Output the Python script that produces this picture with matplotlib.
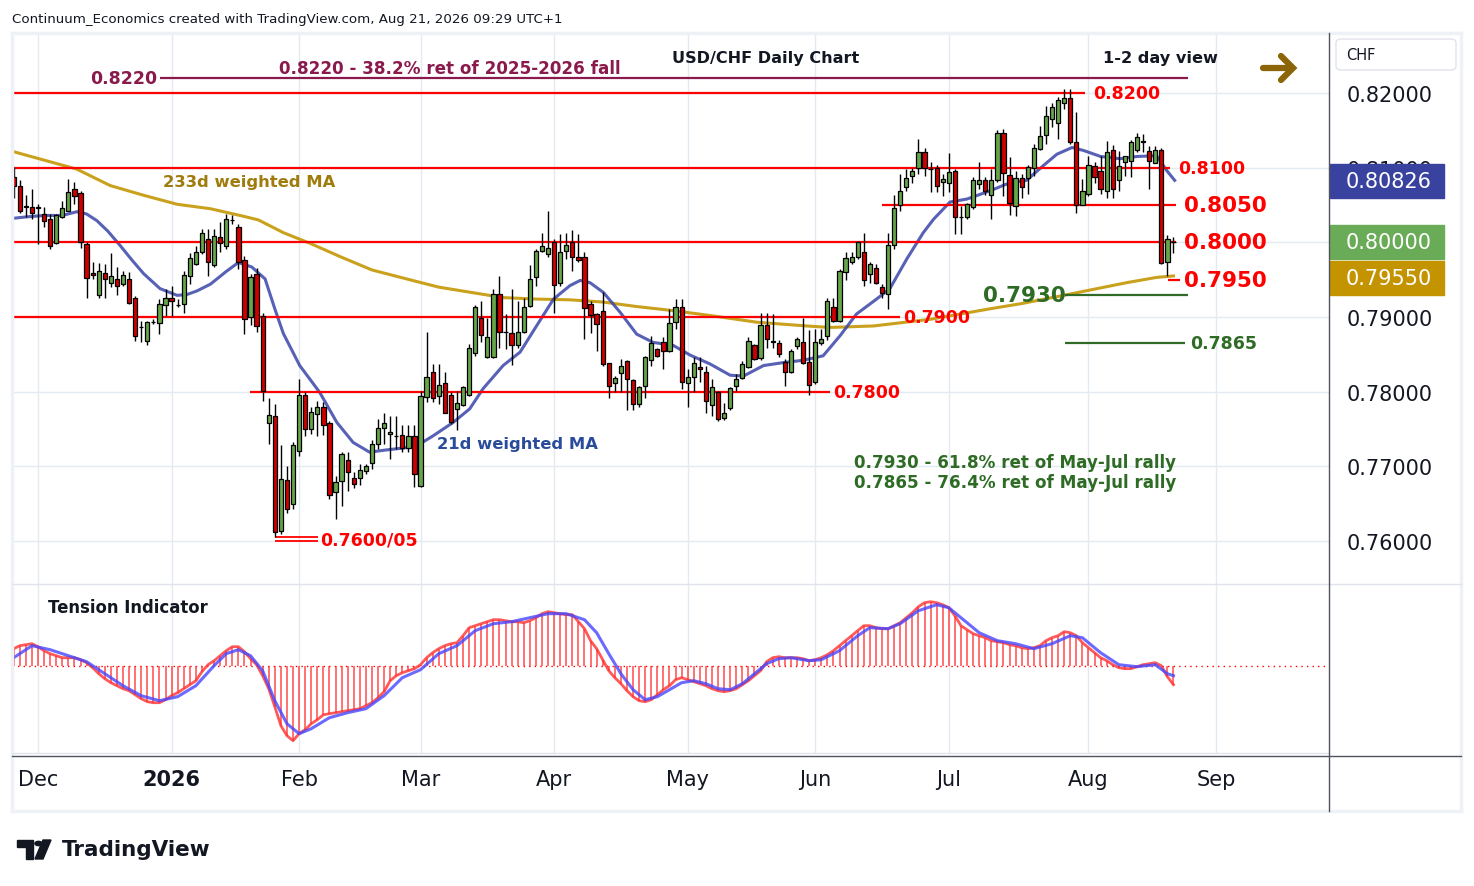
import numpy as np
import pandas as pd
import matplotlib
matplotlib.use("Agg")
import matplotlib.pyplot as plt
from matplotlib.patches import Rectangle, FancyBboxPatch, Circle, Polygon
from matplotlib.lines import Line2D
import matplotlib.transforms as mtransforms

# ---------------- data ----------------
opens = [0.8087,0.8076,0.8047,0.8047,0.8046,0.8038,0.8031,0.7999,0.8034,0.8042,0.8071,0.8066,0.7998,0.7959,0.7930,0.7959,
         0.7946,0.7951,0.7944,0.7951,0.7926,0.7886,0.7868,0.7893,0.7892,0.7916,0.7926,0.7916,0.7918,0.7955,0.7971,0.7987,
         0.8005,0.7969,0.8007,0.7995,0.8030,0.8020,0.7977,0.7900,0.7958,0.7902,0.7758,0.7767,0.7614,0.7682,0.7649,0.7721,
         0.7795,0.7750,0.7770,0.7780,0.7758,0.7665,0.7680,0.7709,0.7685,0.7685,0.7694,0.7705,0.7730,0.7751,0.7743,0.7740,
         0.7742,0.7725,0.7741,0.7674,0.7793,0.7827,0.7794,0.7811,0.7795,0.7777,0.7782,0.7795,0.7852,0.7898,0.7847,0.7847,
         0.7931,0.7880,0.7878,0.7862,0.7880,0.7915,0.7953,0.7988,0.7985,0.8001,0.7946,0.7988,0.8000,0.7981,0.7980,0.7918,
         0.7904,0.7908,0.7838,0.7811,0.7825,0.7841,0.7815,0.7783,0.7807,0.7842,0.7857,0.7866,0.7854,0.7893,0.7913,0.7811,
         0.7819,0.7833,0.7827,0.7782,0.7799,0.7765,0.7778,0.7808,0.7818,0.7833,0.7862,0.7845,0.7889,0.7867,0.7865,0.7840,
         0.7826,0.7861,0.7867,0.7840,0.7813,0.7865,0.7874,0.7914,0.7895,0.7960,0.7974,0.7980,0.7987,0.7958,0.7965,0.7940,
         0.7931,0.7996,0.8050,0.8074,0.8089,0.8099,0.8121,0.8098,0.8099,0.8081,0.8080,0.8095,0.8034,0.8034,0.8047,0.8078,
         0.8084,0.8063,0.8084,0.8146,0.8090,0.8048,0.8086,0.8086,0.8099,0.8125,0.8144,0.8165,0.8160,0.8187,0.8193,0.8134,
         0.8050,0.8065,0.8102,0.8095,0.8069,0.8124,0.8084,0.8107,0.8109,0.8124,0.8135,0.8122,0.8106,0.8124,0.7974,0.8000]
highs = [0.8101,0.8083,0.8063,0.8071,0.8051,0.8047,0.8038,0.8038,0.8056,0.8085,0.8081,0.8069,0.8000,0.7973,0.7972,0.7971,
         0.7986,0.7967,0.7962,0.7960,0.7928,0.7895,0.7895,0.7897,0.7924,0.7937,0.7942,0.7924,0.7962,0.7986,0.7995,0.8018,
         0.8018,0.8018,0.8027,0.8038,0.8036,0.8025,0.7982,0.7958,0.7966,0.7905,0.7792,0.7783,0.7728,0.7701,0.7732,0.7817,
         0.7799,0.7779,0.7787,0.7786,0.7761,0.7687,0.7719,0.7719,0.7692,0.7703,0.7703,0.7735,0.7763,0.7772,0.7767,0.7767,
         0.7756,0.7755,0.7755,0.7801,0.7880,0.7837,0.7837,0.7826,0.7799,0.7801,0.7808,0.7864,0.7916,0.7922,0.7899,0.7937,
         0.7955,0.7904,0.7938,0.7922,0.7926,0.7970,0.7991,0.8013,0.8042,0.8004,0.8011,0.8013,0.8017,0.8011,0.7987,0.7922,
         0.7906,0.7933,0.7839,0.7821,0.7844,0.7842,0.7817,0.7808,0.7848,0.7875,0.7859,0.7873,0.7911,0.7924,0.7924,0.7830,
         0.7846,0.7846,0.7835,0.7817,0.7801,0.7785,0.7806,0.7824,0.7841,0.7873,0.7864,0.7906,0.7906,0.7904,0.7869,0.7844,
         0.7857,0.7873,0.7898,0.7882,0.7884,0.7884,0.7926,0.7926,0.7964,0.7987,0.7987,0.8002,0.8013,0.7973,0.7971,0.7944,
         0.8013,0.8063,0.8092,0.8098,0.8100,0.8139,0.8127,0.8107,0.8103,0.8091,0.8119,0.8098,0.8049,0.8053,0.8087,0.8107,
         0.8087,0.8098,0.8150,0.8152,0.8114,0.8096,0.8091,0.8104,0.8132,0.8156,0.8183,0.8187,0.8195,0.8205,0.8206,0.8174,
         0.8085,0.8116,0.8107,0.8116,0.8136,0.8131,0.8122,0.8115,0.8137,0.8147,0.8145,0.8129,0.8129,0.8127,0.8010,0.8007]
lows = [0.8059,0.8039,0.8034,0.8031,0.7998,0.8020,0.7991,0.7998,0.8033,0.8042,0.8051,0.7992,0.7925,0.7951,0.7925,0.7926,
        0.7940,0.7929,0.7942,0.7917,0.7868,0.7866,0.7862,0.7891,0.7877,0.7902,0.7902,0.7913,0.7906,0.7944,0.7969,0.7984,
        0.7955,0.7967,0.7987,0.7991,0.8025,0.7964,0.7877,0.7889,0.7880,0.7788,0.7730,0.7605,0.7610,0.7638,0.7643,0.7714,
        0.7741,0.7743,0.7741,0.7742,0.7656,0.7630,0.7647,0.7667,0.7671,0.7675,0.7690,0.7696,0.7723,0.7730,0.7710,0.7723,
        0.7719,0.7719,0.7672,0.7672,0.7786,0.7786,0.7783,0.7771,0.7757,0.7748,0.7781,0.7794,0.7848,0.7866,0.7845,0.7845,
        0.7858,0.7857,0.7836,0.7859,0.7879,0.7913,0.7942,0.7987,0.7980,0.7906,0.7941,0.7978,0.7962,0.7973,0.7871,0.7879,
        0.7855,0.7835,0.7791,0.7799,0.7799,0.7775,0.7776,0.7780,0.7792,0.7835,0.7846,0.7830,0.7853,0.7884,0.7804,0.7779,
        0.7799,0.7813,0.7772,0.7768,0.7761,0.7762,0.7776,0.7801,0.7817,0.7832,0.7842,0.7843,0.7858,0.7858,0.7846,0.7808,
        0.7825,0.7857,0.7837,0.7796,0.7810,0.7862,0.7869,0.7893,0.7893,0.7949,0.7971,0.7978,0.7942,0.7946,0.7944,0.7926,
        0.7911,0.7991,0.8042,0.8069,0.8080,0.8091,0.8089,0.8067,0.8067,0.8062,0.8067,0.8011,0.8011,0.8031,0.8045,0.8071,
        0.8064,0.8031,0.8081,0.8062,0.8036,0.8035,0.8060,0.8065,0.8089,0.8123,0.8132,0.8154,0.8138,0.8178,0.8132,0.8039,
        0.8050,0.8062,0.8080,0.8065,0.8060,0.8059,0.8069,0.8089,0.8088,0.8121,0.8121,0.8072,0.8106,0.7971,0.7955,0.7986]
closes = [0.8076,0.8042,0.8048,0.8039,0.8047,0.8029,0.7995,0.8036,0.8046,0.8067,0.8062,0.8000,0.7952,0.7956,0.7961,0.7951,
          0.7955,0.7941,0.7956,0.7919,0.7875,0.7886,0.7893,0.7893,0.7917,0.7926,0.7922,0.7916,0.7956,0.7979,0.7987,0.8012,
          0.7973,0.8009,0.7999,0.8031,0.8030,0.7973,0.7897,0.7953,0.7888,0.7801,0.7769,0.7612,0.7683,0.7643,0.7728,0.7795,
          0.7750,0.7773,0.7780,0.7756,0.7662,0.7679,0.7716,0.7693,0.7676,0.7695,0.7700,0.7730,0.7751,0.7758,0.7746,0.7740,
          0.7725,0.7741,0.7690,0.7794,0.7819,0.7792,0.7809,0.7772,0.7759,0.7785,0.7806,0.7859,0.7913,0.7876,0.7873,0.7931,
          0.7880,0.7880,0.7863,0.7880,0.7914,0.7951,0.7988,0.7995,0.7993,0.7943,0.7987,0.7997,0.7980,0.7976,0.7912,0.7903,
          0.7890,0.7837,0.7808,0.7818,0.7834,0.7817,0.7783,0.7806,0.7846,0.7865,0.7848,0.7855,0.7892,0.7914,0.7813,0.7819,
          0.7839,0.7830,0.7787,0.7806,0.7763,0.7772,0.7805,0.7817,0.7837,0.7868,0.7844,0.7889,0.7871,0.7867,0.7850,0.7826,
          0.7855,0.7870,0.7839,0.7809,0.7866,0.7871,0.7921,0.7895,0.7962,0.7979,0.7981,0.8000,0.7949,0.7971,0.7946,0.7932,
          0.7996,0.8046,0.8069,0.8086,0.8095,0.8121,0.8100,0.8098,0.8075,0.8085,0.8094,0.8034,0.8034,0.8051,0.8084,0.8083,
          0.8069,0.8084,0.8147,0.8093,0.8053,0.8086,0.8074,0.8101,0.8127,0.8143,0.8169,0.8181,0.8191,0.8193,0.8135,0.8050,
          0.8069,0.8103,0.8088,0.8071,0.8121,0.8071,0.8102,0.8115,0.8135,0.8141,0.8135,0.8109,0.8124,0.7972,0.8004,0.8000]

# 21d and 233d weighted moving averages (candle index, value)
ma21_idx = [-0.3,2,5,8,10.4,12,13.7,15.5,17.5,19.5,21.4,24.1,26.9,28.5,30.2,32.4,35,37,39.2,41.4,43,44.4,47.1,50.4,53.2,55.9,58.6,61.4,
            64.7,66.9,69.1,72.4,75.1,77.3,80.6,83.4,86.1,88.9,91.6,93.3,94.9,97.1,99.9,102.6,105.3,108.6,111.4,114.7,118,120.2,
            123.5,126.8,130,133.3,136.1,138.8,142.1,144.3,147.1,149.8,151.5,154.2,157,160.8,164.1,166.8,169.6,171.8,174.3,176.2,
            179,182.2,185,188.2,189.9,191.2]
ma21_val = [0.8032,0.8034,0.8036,0.8036,0.8041,0.8038,0.8029,0.8015,0.7996,0.7976,0.7958,0.7938,0.7929,0.7930,0.7935,0.7944,
            0.7961,0.7973,0.7967,0.7951,0.7911,0.7878,0.7835,0.7799,0.7759,0.7732,0.7719,0.7722,0.7725,0.7730,0.7741,0.7759,
            0.7777,0.7804,0.7835,0.7853,0.7888,0.7924,0.7942,0.7949,0.7946,0.7933,0.7906,0.7877,0.7866,0.7862,0.7849,0.7837,
            0.7822,0.7821,0.7835,0.7839,0.7842,0.7848,0.7875,0.7904,0.7924,0.7938,0.7978,0.8013,0.8031,0.8054,0.8058,0.8069,
            0.8080,0.8083,0.8103,0.8118,0.8127,0.8123,0.8115,0.8112,0.8115,0.8116,0.8096,0.8083]
ma233_idx = [-0.3,10.4,15.9,21.4,26.9,32.4,37.8,40.3,44.4,49,54,59,64.7,70,76.8,80.6,86.1,91.6,97.1,102.6,108.1,114.7,122.4,
             130.6,134.4,141.6,151,160.8,166,172.9,177.8,183.3,188.2,191]
ma233_val = [0.8122,0.8098,0.8076,0.8063,0.8051,0.8045,0.8035,0.8030,0.8013,0.7998,0.7980,0.7963,0.7951,0.7940,0.7931,0.7926,
             0.7924,0.7923,0.7920,0.7914,0.7909,0.7902,0.7893,0.7888,0.7886,0.7888,0.7897,0.7911,0.7918,0.7929,0.7937,0.7946,
             0.7953,0.7955]

# Tension indicator (one value per candle) and its signal line
tension = [17,20,21,22,19,15,12,10,8,8,8,6,3,-2,-8,-13,-17,-20,-23,-25,-29,-33,-36,-37,-37,-34,-30,-27,-23,-19,-15,-6,
           1,5,10,15,19,19,14,7,1,-10,-23,-41,-60,-70,-75,-68,-64,-58,-54,-49,-48,-47,-46,-45,-44,-43,-40,-37,-32,-26,-15,-10,
           -7,-5,-3,1,8,13,17,20,22,23,30,38,40,42,44,46,46,45,44,44,43,45,48,52,54,53,52,51,51,44,37,25,
           17,6,-5,-12,-18,-25,-31,-35,-36,-34,-29,-24,-20,-14,-12,-14,-16,-18,-20,-23,-25,-26,-25,-23,-19,-15,-10,-5,4,8,
           9,8,8,8,7,5,6,8,11,15,20,25,30,35,40,40,38,37,37,40,43,48,53,59,63,64,63,61,58,50,40,36,
           32,30,28,25,24,23,21,20,18,17,18,20,25,28,30,34,33,30,23,18,13,8,5,1,-2,-3,-3,-1,1,2,3,0,-11,-19]
signal_idx = [0,3,6,9,12,15,18,21,24,27,30,33,35,37,39,41,43,45,47,49,52,55,58,61,64,67,70,73,76,79,82,85,88,91,94,96,98,
              100,102,104,106,108,110,112,114,116,118,120,122,124,126,128,131,133,136,139,141,144,146,149,152,154,156,159,
              162,165,168,171,174,176,179,182,185,188,190,191]
signal_val = [8,20,16,10,4,-8,-20,-30,-35,-31,-20,0,12,16,10,-5,-35,-58,-68,-63,-52,-47,-43,-30,-12,-4,12,20,35,42,44,48,52,
              52,46,33,12,-8,-24,-34,-31,-24,-17,-15,-18,-23,-24,-18,-8,2,7,8,5,6,15,30,38,37,42,55,61,58,48,33,25,22,17,
              22,30,28,13,1,-1,1,-8,-10]

month_labels = ["Dec", "2026", "Feb", "Mar", "Apr", "May", "Jun", "Jul", "Aug", "Sep"]
price_ticks = [0.76, 0.77, 0.78, 0.79, 0.80, 0.81, 0.82]

# trading-day calendar (weekdays, without Christmas and New Year's Day)
cal = pd.bdate_range("2025-11-25", "2026-09-30")
cal = cal[~cal.isin(pd.to_datetime(["2025-12-25", "2026-01-01"]))]
n = len(closes)
xs = np.arange(n)
month_pos = []
prev = None
for k, d in enumerate(cal):
    key = (d.year, d.month)
    if key != prev and k > 0:
        month_pos.append(k)
    prev = key

# ---------------- figure ----------------
W, H = 1474, 887
fig = plt.figure(figsize=(W / 100, H / 100), dpi=100)
fig.patch.set_facecolor("white")

def rect(x0, y0, x1, y1):
    return [x0 / W, 1 - y1 / H, (x1 - x0) / W, (y1 - y0) / H]

PXD = 6.072
x0pos = month_pos[0]          # Dec 1
xl = (x0pos - 26 / PXD, x0pos + (1329 - 38) / PXD)
PPU = 7466.7
ylo = 0.76 - (585 - 542) / PPU
yhi = 0.82 + (94 - 35) / PPU

ax = fig.add_axes(rect(12, 35, 1329, 585))
axt = fig.add_axes(rect(12, 585, 1329, 755), sharex=ax)
for a in (ax, axt):
    a.set_facecolor("white")
    for s in a.spines.values():
        s.set_visible(False)
ax.set_xlim(*xl)
ax.set_ylim(ylo, yhi)
axt.set_ylim(666.7 - 755, 666.7 - 585)

grid_c = "#e4eaf1"
for p in month_pos:
    ax.axvline(p, color=grid_c, lw=1.0, zorder=0)
    axt.axvline(p, color=grid_c, lw=1.0, zorder=0)
for t in price_ticks:
    ax.axhline(t, color=grid_c, lw=1.0, zorder=0)

# ---------------- candles ----------------
o = np.array(opens); h = np.array(highs); l = np.array(lows); c = np.array(closes)
up = c >= o
ax.vlines(xs, l, h, color="black", lw=1.0, zorder=3)
body_lo = np.minimum(o, c)
body_h = np.maximum(np.abs(c - o), 0.00003)
cols = np.where(up, "#66a64a", "#d10000")
ax.bar(xs, body_h, bottom=body_lo, width=0.7, color=cols, edgecolor="black", linewidth=0.9, zorder=4)

# moving averages
ax.plot(np.array(ma233_idx), ma233_val, color="#c79c10", lw=2.2, alpha=0.95, zorder=2)
ax.plot(np.array(ma21_idx), ma21_val, color="#3a45a8", lw=2.2, alpha=0.85, zorder=2)

# ---------------- horizontal levels ----------------
def ix(px):
    return x0pos + (px - 38) / PXD

red = "#ff0000"
maroon = "#8a1a4c"
green = "#2e6b25"
ax.hlines(0.8220, ix(160), ix(1188), color=maroon, lw=1.6, zorder=2)
ax.hlines(0.8200, xl[0], ix(1085), color=red, lw=1.6, zorder=2)
ax.hlines(0.8100, xl[0], ix(1170), color=red, lw=1.6, zorder=2)
ax.hlines(0.8050, ix(882), ix(1176), color=red, lw=1.6, zorder=2)
ax.hlines(0.8000, xl[0], ix(1176), color=red, lw=1.6, zorder=2)
ax.hlines(0.7950, ix(1168), ix(1180), color=red, lw=1.6, zorder=2)
ax.hlines(0.7900, xl[0], ix(900), color=red, lw=1.6, zorder=2)
ax.hlines(0.7800, ix(250), ix(830), color=red, lw=1.6, zorder=2)
ax.hlines([0.7600, 0.7605], ix(275), ix(318), color=red, lw=1.3, zorder=2)
ax.hlines(0.7930, ix(1065), ix(1188), color=green, lw=1.6, zorder=2)
ax.hlines(0.7865, ix(1065), ix(1185), color=green, lw=1.6, zorder=2)

fb = dict(family="DejaVu Sans", weight="bold")
ax.text(ix(157), 0.8220, "0.8220", color=maroon, fontsize=12.5, ha="right", va="center", **fb)
ax.text(ix(450), 0.82335, "0.8220 - 38.2% ret of 2025-2026 fall", color=maroon, fontsize=12.1, ha="center", va="center", **fb)
ax.text(ix(1093), 0.8200, "0.8200", color=red, fontsize=12.5, ha="left", va="center", **fb)
ax.text(ix(1178), 0.8100, "0.8100", color=red, fontsize=12.5, ha="left", va="center", **fb)
ax.text(ix(1184), 0.8050, "0.8050", color=red, fontsize=15.5, ha="left", va="center", **fb)
ax.text(ix(1184), 0.8000, "0.8000", color=red, fontsize=15.5, ha="left", va="center", **fb)
ax.text(ix(1184), 0.7950, "0.7950", color=red, fontsize=15.5, ha="left", va="center", **fb)
ax.text(ix(1066), 0.7930, "0.7930", color=green, fontsize=15.5, ha="right", va="center", **fb)
ax.text(ix(1190), 0.7865, "0.7865", color=green, fontsize=12.5, ha="left", va="center", **fb)
ax.text(ix(903), 0.7900, "0.7900", color=red, fontsize=12.5, ha="left", va="center", **fb)
ax.text(ix(833), 0.7800, "0.7800", color=red, fontsize=12.5, ha="left", va="center", **fb)
ax.text(ix(320), 0.76025, "0.7600/05", color=red, fontsize=12.5, ha="left", va="center", **fb)
ax.text(ix(163), 0.8081, "233d weighted MA", color="#a07c0c", fontsize=11.8, ha="left", va="center", **fb)
ax.text(ix(437), 0.7731, "21d weighted MA", color="#2b4c9b", fontsize=11.8, ha="left", va="center", **fb)
ax.text(ix(854), 0.7706, "0.7930 - 61.8% ret of May-Jul rally", color=green, fontsize=12.1, ha="left", va="center", **fb)
ax.text(ix(854), 0.7679, "0.7865 - 76.4% ret of May-Jul rally", color=green, fontsize=12.1, ha="left", va="center", **fb)

fig.text(766 / W, 1 - 59 / H, "USD/CHF Daily Chart", fontsize=11.6, ha="center", va="center", color="#131722", **fb)
fig.text(1160 / W, 1 - 59 / H, "1-2 day view", fontsize=11.6, ha="center", va="center", color="#131722", **fb)

# arrow
arr_c = "#8b6508"
fig.add_artist(Line2D([1263 / W, 1291 / W], [1 - 69 / H, 1 - 69 / H], color=arr_c, lw=4.5, solid_capstyle="round"))
fig.add_artist(Line2D([1281 / W, 1293 / W, 1281 / W], [1 - 57 / H, 1 - 69 / H, 1 - 81 / H], color=arr_c, lw=4.5,
                      solid_capstyle="round", solid_joinstyle="miter"))

# ---------------- right axis ----------------
ax.yaxis.tick_right()
ax.set_yticks(price_ticks)
ax.set_yticklabels([f"{t:.5f}" for t in price_ticks])
ax.tick_params(axis="y", length=0, pad=13, labelsize=15, labelcolor="#131722")
ax.tick_params(axis="x", length=0, labelbottom=False)

btrans = mtransforms.blended_transform_factory(ax.transAxes, ax.transData)
bw = (1444 - 1330) / (1329 - 12)
bh = 34 / PPU
for val, y, col in [(0.80826, 0.80826, "#3a42a0"), (0.80000, 0.80000, "#6aab57"), (0.79550, 0.79525, "#c49300")]:
    ax.add_patch(Rectangle((1.0008, y - bh / 2), bw, bh, transform=btrans, color=col, clip_on=False, zorder=10))
    ax.text(1.0008 + 16 / 1317, y, f"{val:.5f}", transform=btrans, color="white", fontsize=15, ha="left",
            va="center", zorder=11, clip_on=False)

fig.add_artist(FancyBboxPatch((1336 / W, 1 - 71 / H), 120 / W, 31 / H, boxstyle="round,pad=0,rounding_size=0.004",
                              transform=fig.transFigure, facecolor="white", edgecolor="#e0e3eb", lw=1))
fig.text(1346 / W, 1 - 55 / H, "CHF", fontsize=10.5, ha="left", va="center", color="#131722")

# ---------------- tension indicator ----------------
tv = np.array(tension, dtype=float)
axt.vlines(xs, 0, tv, color="#ff3030", lw=1.2, alpha=0.8, zorder=2)
axt.plot(xs, tv, color="#ff3030", lw=2.0, alpha=0.8, zorder=3)
axt.plot(signal_idx, signal_val, color="#4646ff", lw=2.2, alpha=0.8, zorder=4)
axt.axhline(0, color="#ff0000", lw=1.0, ls=(0, (1, 3)), zorder=1)
axt.text(ix(48), 666.7 - 608, "Tension Indicator", fontsize=11.9, ha="left", va="center", color="#131722",
         family="DejaVu Sans", weight="semibold")
axt.set_yticks([])
axt.set_xticks(month_pos)
axt.set_xticklabels(month_labels)
axt.tick_params(axis="x", length=0, pad=11, labelsize=15, labelcolor="#131722")
for lab in axt.get_xticklabels():
    if lab.get_text() == "2026":
        lab.set_fontweight("bold")

# ---------------- frame lines ----------------
def fline(x0, y0, x1, y1, col, lw):
    fig.add_artist(Line2D([x0 / W, x1 / W], [1 - y0 / H, 1 - y1 / H], color=col, lw=lw))

fline(12, 34, 1461, 34, "#eef1f6", 2.5)
fline(12, 812, 1461, 812, "#eef1f6", 2.5)
fline(12, 34, 12, 812, "#eef1f6", 2.5)
fline(1461, 34, 1461, 812, "#eef1f6", 2.5)
fline(12, 585, 1461, 585, "#e0e3eb", 1.0)
fline(12, 754, 1329, 754, "#e0e3eb", 1.0)
fline(12, 757, 1461, 757, "#50535e", 1.0)
fline(1329, 34, 1329, 812, "#50535e", 1.0)

# header
fig.text(12 / W, 1 - 19 / H, "Continuum_Economics created with TradingView.com, Aug 21, 2026 09:29 UTC+1",
         fontsize=9.6, ha="left", va="center", color="#131722")

# TradingView logo
lc = "#131722"
fig.add_artist(Polygon([[17 / W, 1 - 841 / H], [33 / W, 1 - 841 / H], [33 / W, 1 - 860 / H], [26 / W, 1 - 860 / H],
                        [26 / W, 1 - 848 / H], [17 / W, 1 - 848 / H]], closed=True, transform=fig.transFigure, color=lc))
fig.add_artist(Circle((38.5 / W, 1 - 844.5 / H), 3.6 / W, transform=fig.transFigure, color=lc))
fig.add_artist(Polygon([[43 / W, 1 - 841 / H], [51 / W, 1 - 841 / H], [43 / W, 1 - 860 / H], [35 / W, 1 - 860 / H]],
                       closed=True, transform=fig.transFigure, color=lc))
fig.text(62 / W, 1 - 850 / H, "TradingView", fontsize=15.5, ha="left", va="center", color=lc,
         family="DejaVu Sans", weight="bold")

fig.savefig("out.png", dpi=100, facecolor="white")
